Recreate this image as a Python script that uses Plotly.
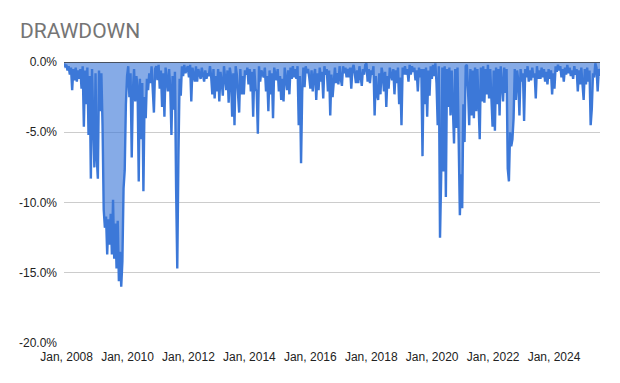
import pandas as pd
import plotly.graph_objects as go

# Drawdown values in percent, one value every 14 days starting Dec 2007
dd_2008_2010 = [
    -0.1, -0.3, -0.2, -0.6, -0.3, -0.9, -0.4, -2.0, -0.5, -1.3,
    -0.4, -1.4, -0.6, -1.2, -0.5, -1.9, -0.3, -4.6, -0.6, -3.0,
    -0.4, -5.2, -1.0, -8.3, -0.5, -4.0, -7.5, -0.8, -6.8, -8.3,
    -0.6, -3.5, -0.8, -4.5, -10.5, -11.8, -11.0, -13.7, -11.2, -13.0,
    -10.8, -13.7, -9.8, -14.0, -11.5, -14.7, -11.3, -15.6, -13.5, -16.0,
    -14.2, -9.0, -7.7, -3.0, -1.0, -0.3, -2.5, -0.8, -6.8, -2.0,
    -0.5, -2.8, -1.0, -1.8, -8.5, -1.2, -5.5, -1.5, -9.2, -2.5,
    -4.0, -1.2, -2.0, -0.8, -1.5, -0.3, -2.5,
]
dd_2010_2013 = [
    -3.6, -0.5, -0.3, -1.3, -0.2, -1.9, -0.6, -3.2, -0.8, -3.9,
    -0.4, -1.2, -2.1, -0.5, -1.9, -5.2, -1.0, -3.4, -0.7, -9.0,
    -14.7, -6.6, -1.2, -2.4, -0.3, -1.0, -0.2, -0.8, -0.6, -0.3,
    -1.1, -0.2, -2.8, -0.4, -0.9, -1.4, -0.3, -1.4, -0.5, -0.9,
    -1.2, -0.4, -1.0, -1.4, -0.6, -1.2, -0.8, -1.0, -0.3, -1.0,
    -2.3, -0.5, -2.6, -1.0, -2.1, -0.5, -2.8, -0.7, -1.4, -2.4,
    -0.3, -1.4, -2.0, -0.6, -2.9, -0.4, -1.0, -3.9, -0.8, -4.5,
    -0.3, -0.9, -2.0, -3.6, -0.5, -2.3, -1.0,
]
dd_2013_2016 = [
    -2.3, -0.6, -0.9, -0.4, -1.6, -0.5, -2.1, -0.7, -3.9, -0.5,
    -1.9, -2.1, -5.1, -0.3, -1.4, -0.6, -0.9, -1.1, -0.4, -2.1,
    -1.0, -3.5, -0.6, -2.3, -0.8, -4.0, -0.4, -0.9, -1.3, -0.5,
    -2.1, -1.0, -2.7, -1.2, -2.8, -0.4, -1.4, -2.0, -0.6, -2.3,
    -0.4, -1.2, -0.3, -1.1, -0.5, -1.2, -0.3, -4.5, -1.0, -7.2,
    -2.1, -0.4, -1.8, -0.3, -0.8, -0.5, -1.1, -1.9, -0.6, -2.1,
    -1.0, -0.5, -2.7, -0.8, -2.0, -0.4, -1.4, -0.7, -2.6, -0.3,
    -0.9, -0.5, -2.1, -0.6, -3.8, -0.9, -2.5,
]
dd_2016_2019 = [
    -1.7, -0.4, -1.5, -0.8, -1.6, -0.3, -1.2, -1.7, -0.3, -0.8,
    -0.4, -1.1, -0.5, -1.1, -0.4, -1.9, -0.5, -0.2, -0.8, -1.5,
    -0.6, -1.5, -0.3, -1.0, -1.7, -0.5, -0.9, -0.2, -0.1, -1.4,
    -0.5, -1.5, -0.6, -0.9, -0.3, -3.8, -1.0, -2.3, -2.7, -0.8,
    -2.3, -0.4, -0.9, -2.1, -0.7, -3.2, -1.0, -1.9, -0.4, -0.9,
    -1.3, -0.5, -2.3, -0.6, -1.5, -0.4, -3.0, -1.1, -4.5, -0.4,
    -0.9, -0.3, -0.9, -0.5, -1.4, -0.2, -0.9, -0.3, -0.7, -0.4,
    -1.3, -0.6, -2.1, -0.4, -1.1, -0.5, -6.7,
]
dd_2019_2022 = [
    -0.5, -3.0, -0.4, -3.9, -0.6, -2.4, -0.3, -1.2, -0.2, -1.0,
    -0.1, -1.5, -4.5, -0.3, -12.5, -8.1, -0.4, -7.8, -0.3, -9.6,
    -0.5, -3.2, -0.4, -3.8, -0.6, -4.0, -5.8, -0.5, -4.7, -0.4,
    -7.8, -10.9, -8.0, -10.4, -3.0, -5.7, -0.3, -0.2, -2.0, -4.5,
    -0.5, -3.8, -0.6, -4.0, -0.4, -3.5, -0.5, -3.8, -5.5, -0.4,
    -2.8, -0.3, -2.9, -0.5, -2.3, -0.2, -2.6, -0.5, -3.3, -4.6,
    -0.6, -4.9, -0.4, -3.0, -0.5, -3.8, -0.3, -1.7, -2.8, -0.4,
    -2.2, -0.5, -7.6, -8.5, -5.0, -6.0, -5.5,
]
dd_2022_2025 = [
    -4.0, -0.5, -2.7, -0.6, -1.3, -3.8, -0.5, -1.4, -0.8, -4.2,
    -0.5, -1.1, -0.3, -1.4, -0.6, -1.3, -0.4, -1.1, -0.8, -2.6,
    -0.3, -1.2, -0.6, -1.2, -0.4, -1.1, -0.5, -1.4, -0.7, -1.6,
    -0.5, -1.2, -0.6, -2.3, -0.8, -1.9, -0.3, -0.7, -0.2, -0.6,
    -0.3, -1.1, -0.5, -1.4, -0.4, -0.9, -0.2, -0.8, -0.4, -1.0,
    -0.6, -1.2, -0.3, -0.9, -0.5, -2.1, -0.6, -1.6, -0.4, -1.5,
    -2.7, -0.5, -1.6, -0.4, -1.4, -0.6, -4.5, -3.3, -0.8, -1.1,
    -0.1, -0.4, -2.1, -0.5, -1.0,
]

drawdown = (dd_2008_2010 + dd_2010_2013 + dd_2013_2016 +
            dd_2016_2019 + dd_2019_2022 + dd_2022_2025)
dates = pd.date_range("2007-12-01", periods=len(drawdown), freq="14D")

y_tick_vals = [0, -5, -10, -15, -20]
y_tick_text = ["0.0%", "-5.0%", "-10.0%", "-15.0%", "-20.0%"]
x_tick_years = [2008, 2010, 2012, 2014, 2016, 2018, 2020, 2022, 2024]
x_tick_text = [f"Jan, {y}" for y in x_tick_years]
x_tick_vals = [f"{y}-01-01" for y in x_tick_years]

LINE = "#3c78d8"
AXIS_FONT = dict(family="Arial, Liberation Sans, sans-serif", size=12, color="#222222")

fig = go.Figure()
fig.add_trace(go.Scatter(
    x=dates, y=drawdown, mode="lines",
    line=dict(color=LINE, width=2.4),
    fill="tozeroy", fillcolor="rgba(60,120,216,0.62)",
    hoverinfo="skip", showlegend=False,
))

fig.update_layout(
    width=620, height=383,
    margin=dict(l=64, r=20, t=62, b=40),
    paper_bgcolor="white", plot_bgcolor="white",
    title=dict(text="DRAWDOWN", x=20 / 620, xref="container", xanchor="left",
               y=1 - 31 / 383, yref="container", yanchor="middle",
               font=dict(family="Roboto, sans-serif", size=21, color="#757575")),
    xaxis=dict(range=[dates[0], dates[-1]], tickvals=x_tick_vals, ticktext=x_tick_text,
               showgrid=False, zeroline=False, showline=False, ticks="",
               tickfont=AXIS_FONT, ticklabelstandoff=5),
    yaxis=dict(range=[-20, 0], tickvals=y_tick_vals, ticktext=y_tick_text,
               showgrid=True, gridcolor="#cccccc", gridwidth=1,
               zeroline=False, showline=False, ticks="",
               tickfont=AXIS_FONT, ticklabelstandoff=6),
    shapes=[dict(type="line", xref="paper", yref="y", x0=0, x1=1, y0=0, y1=0,
                 line=dict(color="#333333", width=1.3), layer="above")],
)

fig.write_html("out.html", config={"displayModeBar": False},
               post_script="document.body.style.margin='0';")
